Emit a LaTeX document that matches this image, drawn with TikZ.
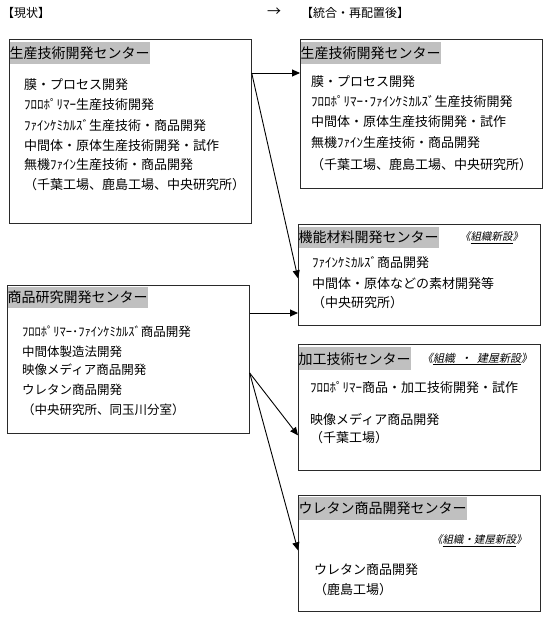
\documentclass[tikz,border=0pt]{standalone}
\usepackage{fontspec}
\setmainfont{Noto Sans CJK JP}
\newfontfamily\tagfont[FakeSlant=0.2]{Noto Sans CJK JP}
\usetikzlibrary{positioning, arrows.meta}
\definecolor{cellGray}{HTML}{C0C0C0}
\definecolor{frameDark}{HTML}{2A2A2A}

\begin{document}
\begin{tikzpicture}[x=1pt, y=-1pt,
  unitbox/.style={draw=frameDark, line width=0.7pt, anchor=north west,
                  inner sep=0pt, minimum width=242pt},
  unittitle/.style={fill=cellGray, anchor=north west, inner xsep=0pt, inner ysep=0pt,
                    minimum height=22pt, font=\fontsize{14}{16}\selectfont},
  unititem/.style={anchor=west, inner sep=0pt, font=\fontsize{13}{15}\selectfont},
  unittag/.style={anchor=west, inner sep=0pt, font=\tagfont\fontsize{10.5}{12}\selectfont},
  headtext/.style={anchor=west, inner sep=0pt, font=\fontsize{12}{14}\selectfont},
  link/.style={-{Triangle[length=8pt, width=7pt]}, line width=0.9pt, black}
]
  \useasboundingbox (0,0) rectangle (550,617);

  \node[headtext] (headOld) at (2,13) {【現状】};
  \node[headtext, font=\fontsize{14}{16}\selectfont] (headArrow) at (267,12) {→};
  \node[headtext] (headNew) at (301,13) {【統合・再配置後】};

  % left column
  \node[unitbox, minimum height=184pt] (prodOld) at (9,39) {};
  \node[unittitle] (prodOldT) at ([xshift=0.4pt, yshift=-3pt]prodOld.north west) {生産技術開発センター};
  \foreach \y/\t [count=\i] in {85/膜・プロセス開発, 105/ﾌﾛﾛﾎﾟﾘﾏｰ生産技術開発,
      126/ﾌｧｲﾝｹﾐｶﾙｽﾞ生産技術・商品開発, 146/中間体・原体生産技術開発・試作,
      165/無機ﾌｧｲﾝ生産技術・商品開発, 185/（千葉工場、鹿島工場、中央研究所）}
    \node[unititem] (prodOld\i) at (24,\y) {\t};

  \node[unitbox, minimum height=148pt] (prodRes) at (7,285) {};
  \node[unittitle, minimum height=21pt] (prodResT) at ([xshift=0.4pt, yshift=-2pt]prodRes.north west) {商品研究開発センター};
  \foreach \y/\t [count=\i] in {332/ﾌﾛﾛﾎﾟﾘﾏｰ･ﾌｧｲﾝｹﾐｶﾙｽﾞ商品開発, 352/中間体製造法開発,
      370/映像メディア商品開発, 390/ウレタン商品開発, 410/（中央研究所、同玉川分室）}
    \node[unititem, font=\fontsize{12.5}{15}\selectfont] (prodRes\i) at (22,\y) {\t};

  % right column
  \node[unitbox, minimum height=149pt] (prodNew) at (300,39) {};
  \node[unittitle] (prodNewT) at ([xshift=0.4pt, yshift=-3pt]prodNew.north west) {生産技術開発センター};
  \foreach \y/\t [count=\i] in {82/膜・プロセス開発, 102/ﾌﾛﾛﾎﾟﾘﾏｰ･ﾌｧｲﾝｹﾐｶﾙｽﾞ生産技術開発,
      122/中間体・原体生産技術開発・試作, 143/無機ﾌｧｲﾝ生産技術・商品開発,
      165/（千葉工場、鹿島工場、中央研究所）}
    \node[unititem] (prodNew\i) at (311,\y) {\t};

  \node[unitbox, minimum height=101pt] (funcNew) at (298,224) {};
  \node[unittitle, minimum height=21pt] (funcNewT) at ([xshift=0.4pt, yshift=-3pt]funcNew.north west) {機能材料開発センター};
  \node[unittag] (funcTag) at (460,238) {《\underline{組織新設}》};
  \foreach \y/\t [count=\i] in {263/ﾌｧｲﾝｹﾐｶﾙｽﾞ商品開発, 284/中間体・原体などの素材開発等,
      303/（中央研究所）}
    \node[unititem] (funcNew\i) at (312,\y) {\t};

  \node[unitbox, minimum height=126pt] (procNew) at (298,344) {};
  \node[unittitle, minimum height=23pt] (procNewT) at ([xshift=0.4pt, yshift=-3pt]procNew.north west) {加工技術センター};
  \node[unittag, font=\tagfont\fontsize{11}{13}\selectfont] (procTag) at (422,359)
    {《\underline{組織\hspace{0.5em}・\hspace{0.5em}建屋新設}》};
  \foreach \y/\t [count=\i] in {388/ﾌﾛﾛﾎﾟﾘﾏｰ商品・加工技術開発・試作, 420/映像メディア商品開発,
      438/（千葉工場）}
    \node[unititem] (procNew\i) at (310,\y) {\t};

  \node[unitbox, minimum height=116pt] (uretNew) at (298,495) {};
  \node[unittitle, minimum height=23pt] (uretNewT) at ([xshift=0.4pt, yshift=-2pt]uretNew.north west) {ウレタン商品開発センター};
  \node[unittag] (uretTag) at (432,541) {《\underline{組織・建屋新設}》};
  \foreach \y/\t [count=\i] in {570/ウレタン商品開発, 590/（鹿島工場）}
    \node[unititem] (uretNew\i) at (314,\y) {\t};

  % connectors
  \coordinate (forkA) at ([yshift=-34pt]prodOld.north east);
  \coordinate (forkB) at ([yshift=-28pt]prodRes.north east);
  \coordinate (forkC) at ([yshift=-88pt]prodRes.north east);
  \draw[link] (forkA) -- (forkA -| prodNew.west);
  \draw[link] (forkA) -- ([yshift=-3.5pt]funcNew.west);
  \draw[link] (forkB) -- (forkB -| funcNew.west);
  \draw[link] (forkC) -- ([yshift=-28pt]procNew.west);
  \draw[link] (forkC) -- ([yshift=3pt]uretNew.west);
\end{tikzpicture}
\end{document}
